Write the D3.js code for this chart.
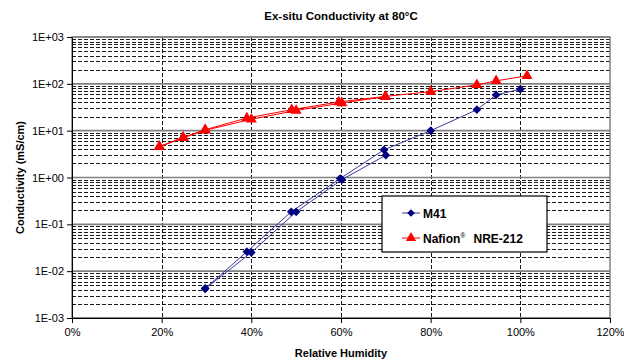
<!DOCTYPE html>
<html>
<head>
<meta charset="utf-8">
<script src="https://cdn.jsdelivr.net/npm/d3@7"></script>
<style>
  body { margin: 0; background: #fff; }
  text { font-family: "Liberation Sans", Arial, sans-serif; }
</style>
</head>
<body>
<svg id="chart"></svg>
<script>
// --------------- Constants ---------------
const MARGINS = { top: 37, right: 14, bottom: 45, left: 72 };
const WIDTH = 624;
const HEIGHT = 363;
const VIS_WIDTH = WIDTH - MARGINS.left - MARGINS.right;
const VIS_HEIGHT = HEIGHT - MARGINS.top - MARGINS.bottom;

// --------------- Data ---------------
const RH_TICKS = [0, 20, 40, 60, 80, 100, 120];
const COND_TICKS = [1e-3, 1e-2, 1e-1, 1e0, 1e1, 1e2, 1e3];
const COND_LABELS = ["1E-03", "1E-02", "1E-01", "1E+00", "1E+01", "1E+02", "1E+03"];

// M41, two runs drawn in the same style
const M41_RH_1 = [29.7, 39, 48.9, 59.8, 69.6, 80, 90.3, 94.6, 100];
const M41_COND_1 = [0.0043, 0.026, 0.185, 0.95, 3.9, 10, 28, 58, 77];
const M41_RH_2 = [29.7, 40, 50, 60.2, 70];
const M41_COND_2 = [0.0042, 0.025, 0.185, 0.9, 3.0];

// Nafion NRE-212, two runs
const NAF_RH_1 = [19.5, 24.8, 29.7, 39, 49, 59.5, 69.9, 80, 90.3, 94.6, 101.5];
const NAF_COND_1 = [4.6, 7.2, 10.5, 18.6, 28, 41, 54, 68, 95, 116, 148];
const NAF_RH_2 = [19.5, 24.8, 29.7, 40, 50, 60.2, 69.9];
const NAF_COND_2 = [4.5, 7.0, 10.2, 17.5, 27, 39, 53];

const BLUE = "#000080";
const BLUE_LINE = "#3a3a9a";
const RED = "#ff0000";

const zip = (xs, ys) => xs.map((x, i) => [x, ys[i]]);

const svg = d3.select("#chart").attr("width", WIDTH).attr("height", HEIGHT);

const X_SCALE = d3.scaleLinear().domain([0, 120]).range([0, VIS_WIDTH]);
const Y_SCALE = d3.scaleLog().domain([1e-3, 1e3]).range([VIS_HEIGHT, 0]);

const plot = svg.append("g")
  .attr("transform", `translate(${MARGINS.left},${MARGINS.top})`);

// Minor grid (2..9 per decade)
const minor = [];
COND_TICKS.slice(0, -1).forEach((d) => {
  for (let k = 2; k <= 9; k++) minor.push(d * k);
});
plot.append("g").selectAll("line")
  .data(minor)
  .enter()
  .append("line")
  .attr("x1", 0).attr("x2", VIS_WIDTH)
  .attr("y1", (d) => Math.round(Y_SCALE(d)) + 0.5)
  .attr("y2", (d) => Math.round(Y_SCALE(d)) + 0.5)
  .attr("stroke", "#000")
  .attr("stroke-width", 0.9)
  .attr("stroke-dasharray", "4,2");

// Vertical grid
plot.append("g").selectAll("line")
  .data(RH_TICKS.slice(1, -1))
  .enter()
  .append("line")
  .attr("x1", (d) => Math.round(X_SCALE(d)) + 0.5)
  .attr("x2", (d) => Math.round(X_SCALE(d)) + 0.5)
  .attr("y1", 0).attr("y2", VIS_HEIGHT)
  .attr("stroke", "#000")
  .attr("stroke-width", 0.9)
  .attr("stroke-dasharray", "4,2");

// Major grid (decades)
plot.append("g").selectAll("line")
  .data(COND_TICKS)
  .enter()
  .append("line")
  .attr("x1", 0).attr("x2", VIS_WIDTH)
  .attr("y1", (d) => Y_SCALE(d))
  .attr("y2", (d) => Y_SCALE(d))
  .attr("stroke", "#808080")
  .attr("stroke-width", 1.6);

// Plot area border
plot.append("rect")
  .attr("x", 0).attr("y", 0)
  .attr("width", VIS_WIDTH).attr("height", VIS_HEIGHT)
  .attr("fill", "none")
  .attr("stroke", "#808080")
  .attr("stroke-width", 1.5);

// Axes
const yAxis = plot.append("g")
  .call(d3.axisLeft(Y_SCALE).tickValues(COND_TICKS)
    .tickFormat((d, i) => COND_LABELS[i]).tickSize(5).tickSizeOuter(0));
const xAxis = plot.append("g")
  .attr("transform", `translate(0,${VIS_HEIGHT})`)
  .call(d3.axisBottom(X_SCALE).tickValues(RH_TICKS)
    .tickFormat((d) => `${d}%`).tickSize(5).tickSizeOuter(0));
[yAxis, xAxis].forEach((a) => {
  a.selectAll("text").attr("font-size", "11px").attr("fill", "#000")
    .style("font-family", "'Liberation Sans', Arial, sans-serif");
  a.selectAll("line").attr("stroke", "#000");
  a.select(".domain").attr("stroke", "#000");
});
yAxis.selectAll("text").attr("x", -8);
xAxis.selectAll("text").attr("y", 10);

// Series
const line = d3.line()
  .x(([rh, _c]) => X_SCALE(rh))
  .y(([_rh, c]) => Y_SCALE(c));

// Excel-style diamond: a square turned 45 degrees
const diamond = (size) => d3.symbol().type(d3.symbolSquare).size(size);
const triangle = (size) => d3.symbol().type(d3.symbolTriangle).size(size);

const series = [
  { pts: zip(M41_RH_1, M41_COND_1), color: BLUE, lineColor: BLUE_LINE, shape: diamond(38), rot: 45 },
  { pts: zip(M41_RH_2, M41_COND_2), color: BLUE, lineColor: BLUE_LINE, shape: diamond(38), rot: 45 },
  { pts: zip(NAF_RH_1, NAF_COND_1), color: RED, lineColor: RED, shape: triangle(52), rot: 0 },
  { pts: zip(NAF_RH_2, NAF_COND_2), color: RED, lineColor: RED, shape: triangle(52), rot: 0 },
];

series.forEach((s) => {
  plot.append("path")
    .datum(s.pts)
    .attr("d", line)
    .attr("fill", "none")
    .attr("stroke", s.lineColor)
    .attr("stroke-width", 1);
});
series.forEach((s) => {
  plot.append("g").selectAll("path")
    .data(s.pts)
    .enter()
    .append("path")
    .attr("transform", ([rh, c]) => `translate(${X_SCALE(rh)},${Y_SCALE(c)}) rotate(${s.rot})`)
    .attr("d", s.shape)
    .attr("fill", s.color);
});

// Titles
svg.append("text")
  .attr("x", 341).attr("y", 20)
  .attr("text-anchor", "middle")
  .attr("font-size", "11.5px").attr("font-weight", "bold")
  .text("Ex-situ Conductivity at 80°C");

svg.append("text")
  .attr("x", MARGINS.left + VIS_WIDTH / 2).attr("y", 357)
  .attr("text-anchor", "middle")
  .attr("font-size", "11px").attr("font-weight", "bold")
  .text("Relative Humidity");

svg.append("text")
  .attr("transform", `translate(24,${MARGINS.top + VIS_HEIGHT / 2}) rotate(-90)`)
  .attr("text-anchor", "middle")
  .attr("font-size", "11px").attr("font-weight", "bold")
  .text("Conductivity (mS/cm)");

// Legend
const legend = svg.append("g").attr("transform", "translate(382,196)");
legend.append("rect")
  .attr("width", 165).attr("height", 56)
  .attr("fill", "#fff").attr("stroke", "#000").attr("stroke-width", 1.2);

const legendItems = [
  { y: 17, color: BLUE, lineColor: BLUE_LINE, shape: diamond(30), rot: 45 },
  { y: 42, color: RED, lineColor: RED, shape: triangle(46), rot: 0 },
];
legendItems.forEach((it) => {
  legend.append("line")
    .attr("x1", 20).attr("x2", 38)
    .attr("y1", it.y).attr("y2", it.y)
    .attr("stroke", it.lineColor).attr("stroke-width", 1);
  legend.append("path")
    .attr("transform", `translate(29,${it.y}) rotate(${it.rot})`)
    .attr("d", it.shape)
    .attr("fill", it.color);
});
legend.append("text")
  .attr("x", 41).attr("y", 22)
  .attr("font-size", "12px").attr("font-weight", "bold")
  .text("M41");
const naf = legend.append("text")
  .attr("x", 41).attr("y", 47)
  .attr("font-size", "12px").attr("font-weight", "bold");
naf.append("tspan").text("Nafion");
naf.append("tspan").attr("dy", -5).attr("font-size", "7px").attr("font-weight", "normal").text("®");
naf.append("tspan").attr("dy", 5).attr("dx", 8).text("NRE-212");
</script>
</body>
</html>
